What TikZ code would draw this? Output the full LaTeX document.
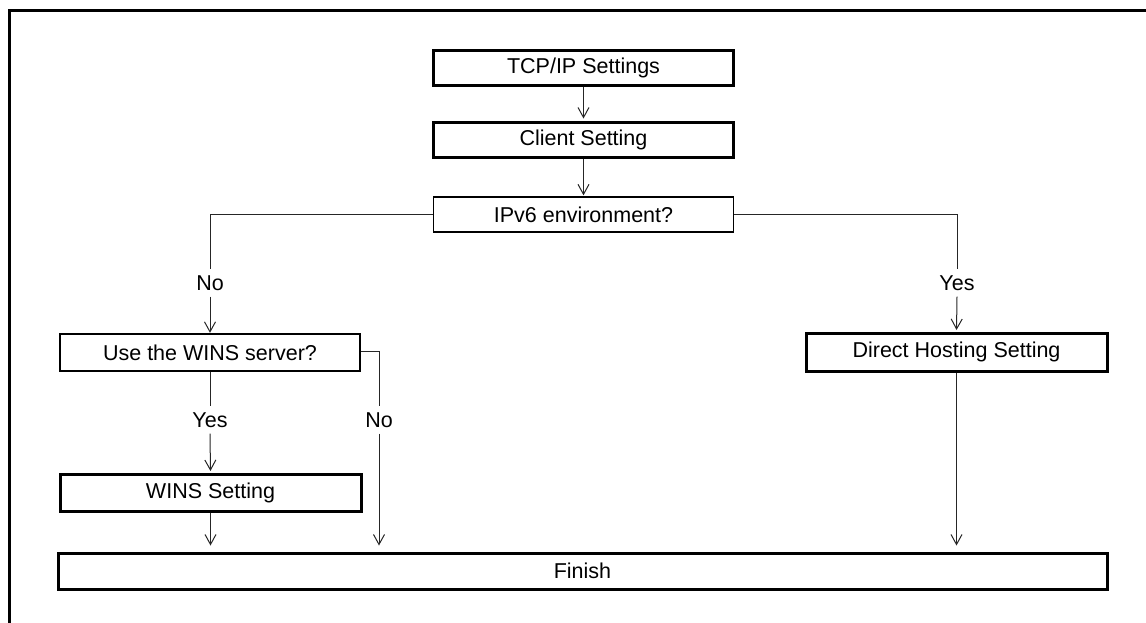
\documentclass[tikz,border=0pt]{standalone}
\usepackage{fontspec}
\setmainfont{Liberation Sans}
\usetikzlibrary{arrows.meta}
\begin{document}
\begin{tikzpicture}[x=1pt,y=-1pt,
  txt/.style={font=\fontsize{21.5}{25}\selectfont},
  thickbox/.style={txt, draw, line width=3pt, minimum width=300pt, minimum height=35pt, inner sep=0pt},
  thinbox/.style={txt, draw, line width=1.3pt, minimum width=300pt, minimum height=35pt, inner sep=0pt},
  conn/.style={line width=1pt, draw=black!85},
  arr/.style={conn, -{Straight Barb[length=10pt,width=11pt,line width=1pt]}},
  lbl/.style={txt, inner sep=0pt, minimum height=27pt},
  frame/.style={line width=3pt}
]
\useasboundingbox (0,0) rectangle (1146,622);
% frame
\coordinate (frTL) at (9,10);
\coordinate (frTR) at (1150,10);
\coordinate (frBL) at (9,626);
\draw[frame] (frBL) -- (frTL) -- (frTR);

% nodes
\node[thickbox] (tcp) at (583.5,67.5) {TCP/IP Settings};
\node[thickbox] (client) at (583.5,139.5) {Client Setting};
\node[thinbox] (ipv6) at (583.5,214.5) {IPv6 environment?};
\node[thinbox, minimum height=37pt] (winsq) at (210,352.5) {Use the WINS server?};
\node[thickbox, minimum width=301pt, minimum height=38pt] (direct) at (956.5,352) {Direct Hosting Setting};
\node[thickbox, minimum width=301pt, minimum height=37pt] (winsset) at (210.5,492.5) {WINS Setting};
\node[thickbox, minimum width=1049pt, minimum height=36pt] (finish) at (582.5,571) {Finish};

% labels
\node[lbl] (noL) at (210,283) {No};
\node[lbl] (yesR) at (957,283) {Yes};
\node[lbl] (yesL) at (210,420) {Yes};
\node[lbl] (noR) at (379,420) {No};

% connectors
\draw[arr, shorten >=2pt] (tcp) -- (client);
\draw[arr, shorten >=1pt] (client) -- (ipv6);
\draw[conn] (ipv6.west) -| (noL.north);
\draw[arr, shorten >=0.5pt] (noL.south) -- (winsq.north);
\draw[conn] (ipv6.east) -| (yesR.north);
\draw[arr, shorten >=1.5pt] (yesR.south) -- (direct.north);
\draw[conn] (winsq.south) -- (yesL.north);
\draw[arr, shorten >=1.5pt] (yesL.south) -- (winsset.north);
\draw[conn] (winsq.east |- 0,351) -| (noR.north);
\draw[arr, shorten >=6pt] (noR.south) -- (noR.south |- finish.north);
\draw[arr, shorten >=6pt] (winsset.south) -- (winsset.south |- finish.north);
\draw[arr, shorten >=6pt] (direct.south) -- (direct.south |- finish.north);
\end{tikzpicture}
\end{document}
